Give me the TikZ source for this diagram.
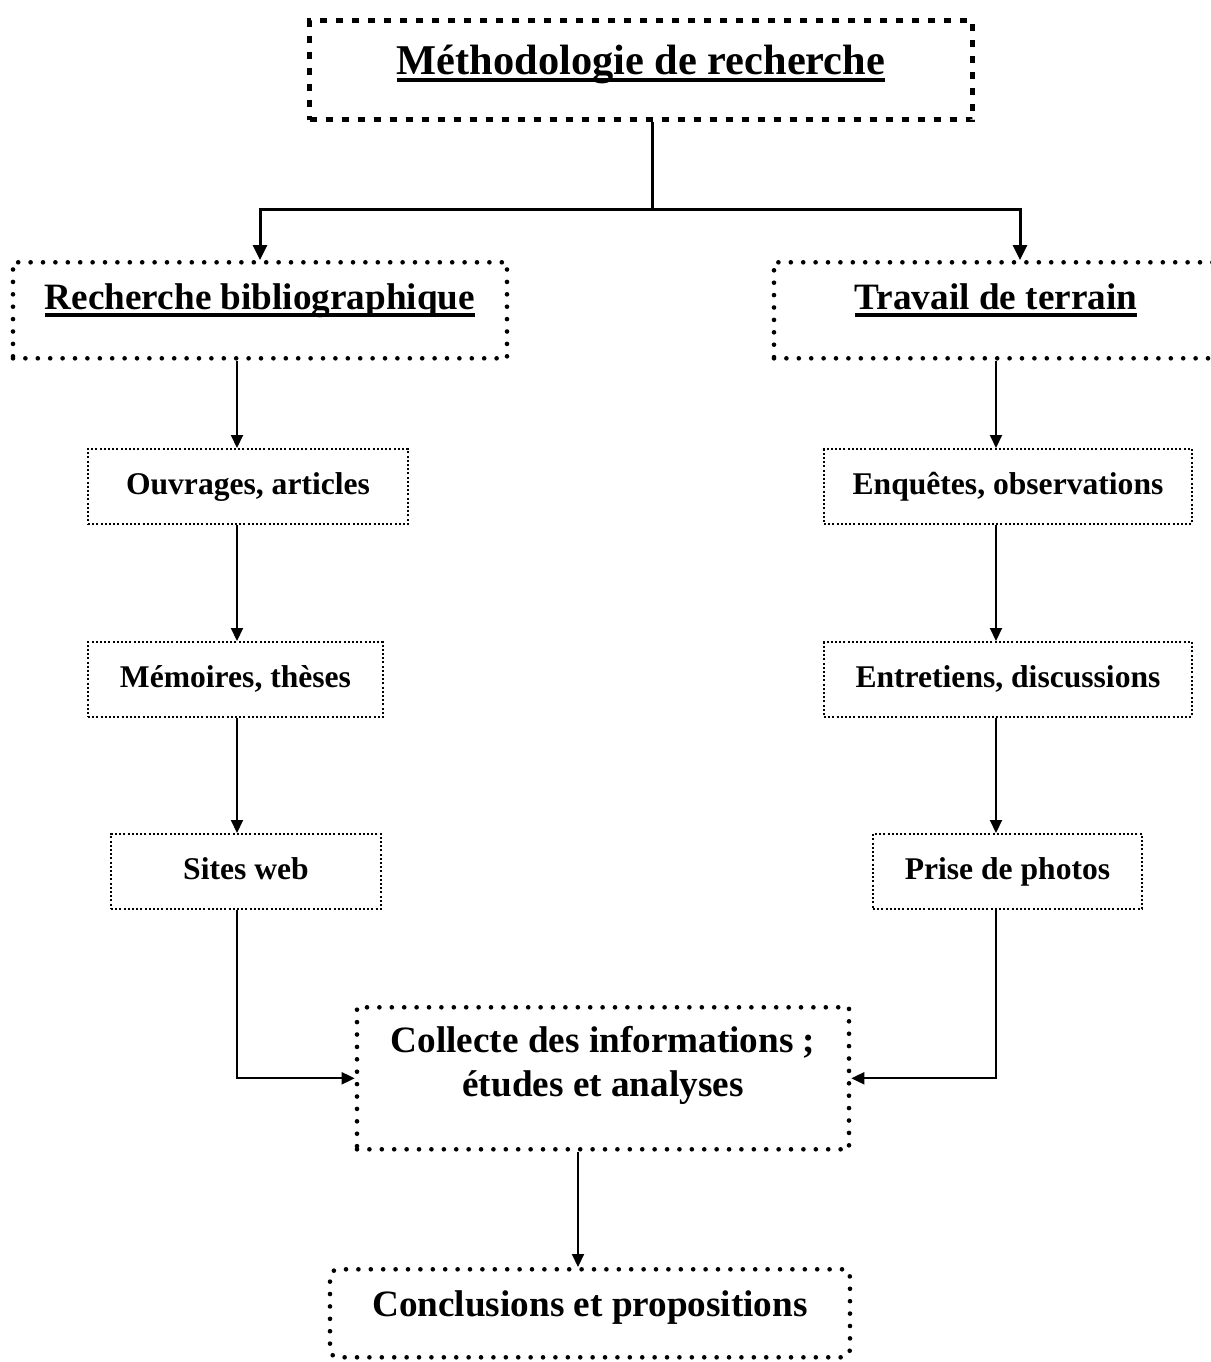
\documentclass[tikz,border=0pt]{standalone}
\usepackage{fontspec}
\setmainfont{Liberation Serif}
\usetikzlibrary{arrows.meta}
\newcommand\undl[1]{\setbox0\hbox{#1}\rlap{\rule[-3.6pt]{\wd0}{1.8pt}}\box0}
\begin{document}
\begin{tikzpicture}[x=0.5pt,y=-0.5pt,
  titlebox/.style={draw,line width=2.5pt,dash pattern=on 3.5pt off 4.5pt,inner sep=0pt,anchor=north,font=\fontsize{21.2}{25}\selectfont\bfseries},
  bigbox/.style={draw,line width=2.3pt,line cap=round,dash pattern=on 0pt off 6.2pt,inner sep=0pt,anchor=north,font=\fontsize{18.6}{22}\selectfont\bfseries},
  smallbox/.style={draw,line width=1pt,dash pattern=on 1pt off 1.1pt,inner sep=0pt,anchor=north,text height=22.5pt,text depth=15pt,font=\fontsize{15.8}{19}\selectfont\bfseries},
  link/.style={draw,line width=1pt,-{Triangle[length=6.5pt,width=6pt]}},
  mainlink/.style={draw,line width=1.5pt,-{Triangle[length=7.5pt,width=7pt]}}]
\useasboundingbox (0,0) rectangle (1211,1362);

\node[titlebox,minimum width=331.5pt,text height=27pt,text depth=22.5pt] (method) at (641,18) {\undl{Méthodologie de recherche}};
\node[bigbox,minimum width=247pt,text height=23.5pt,text depth=24.5pt] (biblio) at (260,260) {\undl{Recherche bibliographique}};
\node[bigbox,minimum width=222pt,text height=23.5pt,text depth=24.5pt] (terrain) at (996,260) {\undl{Travail de terrain}};

\node[smallbox,minimum width=160pt] (ouvrages) at (248,448) {Ouvrages, articles};
\node[smallbox,minimum width=147.5pt] (memoires) at (235.5,641) {Mémoires, thèses};
\node[smallbox,minimum width=135pt] (sites) at (246,833) {Sites web};
\node[smallbox,minimum width=184pt] (enquetes) at (1008,448) {Enquêtes, observations};
\node[smallbox,minimum width=184pt] (entretiens) at (1008,641) {Entretiens, discussions};
\node[smallbox,minimum width=134.5pt] (photos) at (1007.5,833) {Prise de photos};

\node[bigbox,minimum width=246pt,text height=44.5pt,text depth=26.5pt,align=center] (collecte) at (603,1005) {Collecte des informations ;\\ études et analyses};
\node[bigbox,rounded corners=4pt,minimum width=260pt,text height=23.5pt,text depth=20.5pt] (conclusions) at (590,1267) {Conclusions et propositions};

\coordinate (split) at (652,209);
\coordinate (rturn) at (1020,209);
\coordinate (lcol) at (237,0);
\coordinate (rcol) at (996,0);
\coordinate (mcol) at (578,0);

\path[mainlink,-] (split |- method.south) -- (split);
\path[mainlink] (split) -| (biblio.north);
\path[mainlink] (split) -- (rturn) -- (rturn |- terrain.north);

\path[link] (lcol |- biblio.south) -- (lcol |- ouvrages.north);
\path[link] (lcol |- ouvrages.south) -- (lcol |- memoires.north);
\path[link] (lcol |- memoires.south) -- (lcol |- sites.north);
\path[link] (lcol |- sites.south) |- (collecte.west);

\path[link] (rcol |- terrain.south) -- (rcol |- enquetes.north);
\path[link] (rcol |- enquetes.south) -- (rcol |- entretiens.north);
\path[link] (rcol |- entretiens.south) -- (rcol |- photos.north);
\path[link] (rcol |- photos.south) |- (collecte.east);

\path[link] (mcol |- collecte.south) -- (mcol |- conclusions.north);
\end{tikzpicture}
\end{document}
